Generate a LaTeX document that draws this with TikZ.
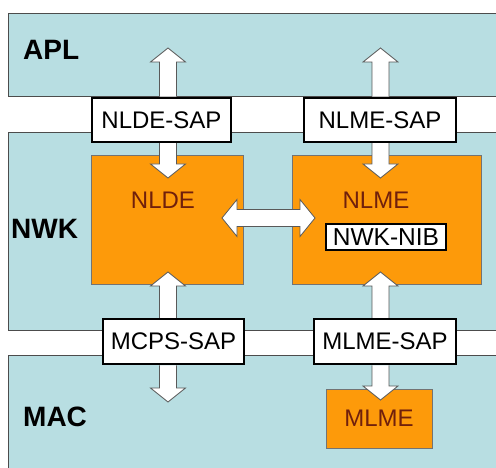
\documentclass[tikz,border=0pt]{standalone}
\usepackage{fontspec}
\setmainfont{Liberation Sans}
\usetikzlibrary{calc}

\definecolor{layerblue}{RGB}{184,222,226}
\definecolor{entityorange}{RGB}{253,154,10}
\definecolor{entityink}{RGB}{112,32,12}

\pgfdeclarelayer{bands}
\pgfdeclarelayer{blocks}
\pgfdeclarelayer{links}
\pgfsetlayers{bands,blocks,links,main}

% vertical block arrow: tail on node border #1, tip at coordinate #2
\newcommand\vblock[2]{%
  \draw[blockarrow] let \p1=(#1), \p2=(#2), \n1={\y2-14*sign(\y2-\y1)} in
    ({\x2-8.5pt},\y1) -- ({\x2-8.5pt},{\n1*1pt}) -- ({\x2-17.5pt},{\n1*1pt})
    -- (\x2,\y2) -- ({\x2+17.5pt},{\n1*1pt}) -- ({\x2+8.5pt},{\n1*1pt})
    -- ({\x2+8.5pt},\y1);
}

\tikzset{
  band/.style={draw=black!70, line width=0.8pt, fill=layerblue, anchor=north west, inner sep=0pt},
  layerlabel/.style={font=\fontsize{28}{28}\selectfont\bfseries, anchor=west, inner sep=0pt},
  entity/.style={draw=black!55, line width=0.8pt, fill=entityorange, inner sep=0pt,
                 font=\fontsize{24}{24}\selectfont, text=entityink},
  entitytext/.style={font=\fontsize{24}{24}\selectfont, text=entityink, inner sep=0pt},
  sap/.style={draw=black, line width=2.5pt, fill=white, inner sep=0pt,
              font=\fontsize{24}{24}\selectfont},
  nib/.style={draw=black, line width=2.2pt, fill=white, inner sep=0pt,
              font=\fontsize{24.5}{24.5}\selectfont},
  blockarrow/.style={draw=black!65, line width=0.8pt, fill=white, line join=miter},
}

\begin{document}
\begin{tikzpicture}[x=1pt, y=-1pt]
  \useasboundingbox (0,0) rectangle (496,468);

  % protocol layers
  \begin{pgfonlayer}{bands}
    \fill[white] (0,0) rectangle (496,468);
    \node[band, minimum width=492pt, minimum height=83pt]  (apl) at (8,13)  {};
    \node[band, minimum width=492pt, minimum height=198pt] (nwk) at (8,132) {};
    \node[band, minimum width=492pt, minimum height=120pt] (mac) at (8,355) {};
    \node[layerlabel] (apllabel) at (23,50)  {APL};
    \node[layerlabel] (nwklabel) at (11,229) {NWK};
    \node[layerlabel] (maclabel) at (23,417) {MAC};
  \end{pgfonlayer}

  % management and data entities
  \begin{pgfonlayer}{blocks}
    \node[entity, minimum width=152pt, minimum height=129pt] (nlde) at (167,219.5) {};
    \node[entity, minimum width=189pt, minimum height=129pt] (nlme) at (386.5,219.5) {};
    \node[entity, minimum width=106pt, minimum height=59pt]  (mlme) at (379,418.5) {MLME};
    \node[entitytext] (nldetext) at (163,200) {NLDE};
    \node[entitytext] (nlmetext) at (376,200) {NLME};
  \end{pgfonlayer}

  % service access points
  \node[sap, minimum width=139pt, minimum height=44pt] (nldesap) at (161.5,120)   {NLDE-SAP};
  \node[sap, minimum width=152pt, minimum height=44pt] (nlmesap) at (380,120)     {NLME-SAP};
  \node[sap, minimum width=141pt, minimum height=45pt] (mcpssap) at (173.5,341.5) {MCPS-SAP};
  \node[sap, minimum width=142pt, minimum height=45pt] (mlmesap) at (385,341.5)   {MLME-SAP};
  \node[nib, minimum width=120pt, minimum height=26pt] (nwknib)  at (386,237)     {NWK-NIB};

  % arrow tips
  \coordinate (aplL)   at (168,48);
  \coordinate (aplR)   at (380.5,48);
  \coordinate (nldeIn) at (168,178);
  \coordinate (nlmeIn) at (380.5,178);
  \coordinate (nldeUp) at (168,272);
  \coordinate (nlmeUp) at (380.5,272);
  \coordinate (macIn)  at (168,402);
  \coordinate (mlmeIn) at (380.5,400);
  \coordinate (dblL)   at (222,218);
  \coordinate (dblR)   at (315,218);

  \begin{pgfonlayer}{links}
    \vblock{nldesap.north}{aplL}
    \vblock{nlmesap.north}{aplR}
    \vblock{nldesap.south}{nldeIn}
    \vblock{nlmesap.south}{nlmeIn}
    \vblock{mcpssap.north}{nldeUp}
    \vblock{mlmesap.north}{nlmeUp}
    \vblock{mcpssap.south}{macIn}
    \vblock{mlmesap.south}{mlmeIn}
    % NLDE <-> NLME
    \draw[blockarrow] let \p1=(dblL), \p2=(dblR) in
      (\x1,\y1) -- ({\x1+15pt},{\y1+18.5pt}) -- ({\x1+15pt},{\y1+8.5pt})
      -- ({\x2-15pt},{\y1+8.5pt}) -- ({\x2-15pt},{\y1+18.5pt}) -- (\x2,\y2)
      -- ({\x2-15pt},{\y1-18.5pt}) -- ({\x2-15pt},{\y1-8.5pt})
      -- ({\x1+15pt},{\y1-8.5pt}) -- ({\x1+15pt},{\y1-18.5pt}) -- cycle;
  \end{pgfonlayer}
\end{tikzpicture}
\end{document}
